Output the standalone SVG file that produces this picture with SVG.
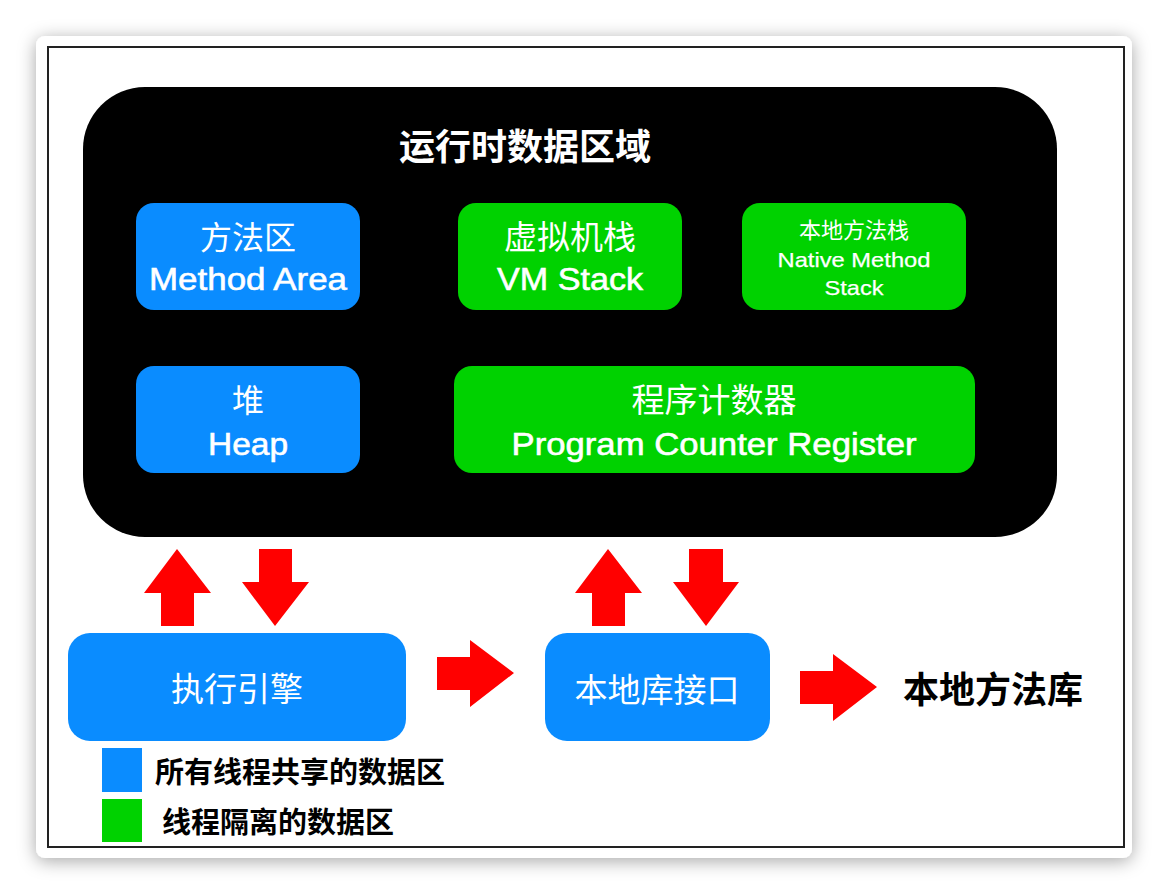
<svg xmlns="http://www.w3.org/2000/svg" width="1168" height="894" viewBox="0 0 1168 894">
  <defs>
    <filter id="shadow" x="-10%" y="-10%" width="120%" height="120%">
      <feDropShadow dx="0" dy="3" stdDeviation="9" flood-color="#000" flood-opacity="0.35"/>
    </filter>
    <style>
      .blue { fill: #0A8CFF; }
      .green { fill: #00D200; }
      .arrow { fill: #FF0000; }
      .cjk { font-family: "Noto Sans CJK SC", "Liberation Sans", sans-serif; }
      .lat { font-family: "Liberation Sans", Arial, sans-serif; stroke: #FFFFFF; stroke-width: 0.6; }
      .sm { stroke-width: 0.25; }
      .wt { fill: #FFFFFF; text-anchor: middle; }
      .bk { fill: #000000; }
    </style>
  </defs>
  <rect x="0" y="0" width="1168" height="894" fill="#FFFFFF"/>
  <rect x="36" y="36" width="1096" height="822" rx="9" fill="#FFFFFF" filter="url(#shadow)"/>
  <rect x="48" y="47" width="1076" height="800" fill="none" stroke="#222" stroke-width="2"/>

  <g id="runtime-area">
    <rect x="83" y="87" width="974" height="450" rx="62" fill="#000000"/>
    <text x="525" y="160" class="cjk wt" font-size="36" font-weight="bold">运行时数据区域</text>
  </g>

  <g id="method-area">
    <rect class="blue" x="136" y="203" width="224" height="107" rx="18"/>
    <text x="248" y="249" class="cjk wt" font-size="32">方法区</text>
    <text x="248" y="290" class="lat wt" font-size="32" textLength="198" lengthAdjust="spacingAndGlyphs">Method Area</text>
  </g>

  <g id="vm-stack">
    <rect class="green" x="458" y="203" width="224" height="107" rx="18"/>
    <text x="570" y="249" class="cjk wt" font-size="33">虚拟机栈</text>
    <text x="570" y="290" class="lat wt" font-size="32" textLength="146" lengthAdjust="spacingAndGlyphs">VM Stack</text>
  </g>

  <g id="native-method-stack">
    <rect class="green" x="742" y="203" width="224" height="107" rx="18"/>
    <text x="854" y="238" class="cjk wt" font-size="22">本地方法栈</text>
    <text x="854" y="267" class="lat sm wt" font-size="21" textLength="153" lengthAdjust="spacingAndGlyphs">Native Method</text>
    <text x="854" y="295" class="lat sm wt" font-size="21" textLength="59" lengthAdjust="spacingAndGlyphs">Stack</text>
  </g>

  <g id="heap">
    <rect class="blue" x="136" y="366" width="224" height="107" rx="18"/>
    <text x="248" y="412" class="cjk wt" font-size="32">堆</text>
    <text x="248" y="455" class="lat wt" font-size="32" textLength="80" lengthAdjust="spacingAndGlyphs">Heap</text>
  </g>

  <g id="pc-register">
    <rect class="green" x="454" y="366" width="521" height="107" rx="18"/>
    <text x="714" y="412" class="cjk wt" font-size="33">程序计数器</text>
    <text x="714" y="455" class="lat wt" font-size="32" textLength="405" lengthAdjust="spacingAndGlyphs">Program Counter Register</text>
  </g>

  <g id="execution-engine">
    <rect class="blue" x="68" y="633" width="338" height="108" rx="22"/>
    <text x="237" y="701" class="cjk wt" font-size="33">执行引擎</text>
  </g>

  <g id="native-interface">
    <rect class="blue" x="545" y="633" width="225" height="108" rx="22"/>
    <text x="657" y="702" class="cjk wt" font-size="33">本地库接口</text>
  </g>

  <g id="native-library">
    <text x="903" y="703" class="cjk bk" font-size="36" font-weight="bold">本地方法库</text>
  </g>

  <g id="connectors">
    <polygon class="arrow" points="177,549 211,593 194,593 194,626 161,626 161,593 144,593"/>
    <polygon class="arrow" points="259,549 292,549 292,582 309,582 275,626 242,582 259,582"/>
    <polygon class="arrow" points="608,549 642,593 625,593 625,626 592,626 592,593 575,593"/>
    <polygon class="arrow" points="689,549 723,549 723,582 739,582 706,626 673,582 689,582"/>
    <polygon class="arrow" points="437,657 470,657 470,640 514,673 470,707 470,690 437,690"/>
    <polygon class="arrow" points="800,671 833,671 833,654 877,687 833,721 833,704 800,704"/>
  </g>

  <g id="legend">
    <rect class="blue" x="102" y="748" width="40" height="44"/>
    <rect class="green" x="102" y="799" width="40" height="43"/>
    <text x="155" y="783" class="cjk bk" font-size="29" font-weight="bold">所有线程共享的数据区</text>
    <text x="162" y="833" class="cjk bk" font-size="29" font-weight="bold">线程隔离的数据区</text>
  </g>
</svg>
